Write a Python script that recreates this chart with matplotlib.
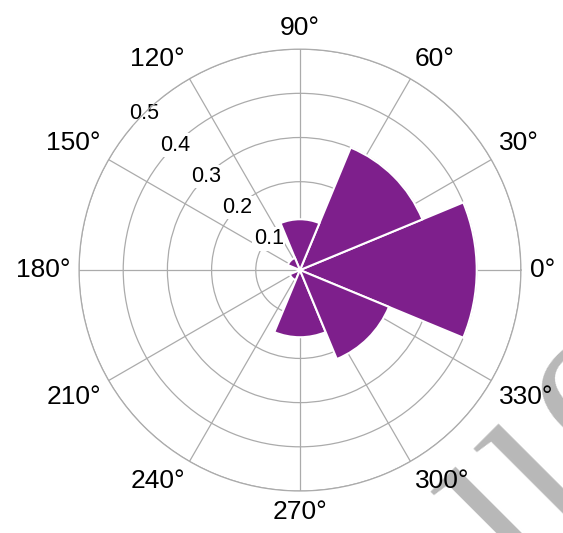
import matplotlib
matplotlib.use("Agg")
import numpy as np
import matplotlib.pyplot as plt

# Polar histogram: 8 bins of 45 degrees
bin_centers_deg = [0, 45, 90, 135, 180, 225, 270, 315]
bin_values = [0.40, 0.30, 0.115, 0.03, 0.0, 0.025, 0.152, 0.218]
bin_width_deg = 45

theta_ticks_deg = list(range(0, 360, 30))
theta_tick_labels = [f"{d}°" for d in theta_ticks_deg]
r_ticks = [0.1, 0.2, 0.3, 0.4, 0.5]
r_tick_labels = ["0.1", "0.2", "0.3", "0.4", "0.5"]
r_max = 0.5

bar_color = "#7E1F8C"
grid_color = "#ABABAB"

plt.rcParams["font.family"] = ["Liberation Sans", "DejaVu Sans"]

fig = plt.figure(figsize=(5.63, 5.33), dpi=100)
fig.patch.set_facecolor("white")

# faint watermark behind the plot
wm_style = dict(rotation=45, rotation_mode="anchor", fontsize=160,
                color="#B8B8B8", family="Liberation Serif", zorder=-1)
fig.text(0.952, -0.128, "ll", ha="left", va="baseline", **wm_style)
fig.text(1.05, 0.278, "o", ha="center", va="center", **wm_style)

ax = fig.add_axes([0.1403, 0.0788, 0.785, 0.829], projection="polar")
ax.patch.set_visible(False)

ax.bar(np.deg2rad(bin_centers_deg), bin_values, width=np.deg2rad(bin_width_deg),
       color=bar_color, edgecolor="white", linewidth=1.5, zorder=3)

ax.set_ylim(0, r_max)
ax.set_xticks(np.deg2rad(theta_ticks_deg))
ax.set_xticklabels([])
ax.set_yticks(r_ticks)
ax.set_yticklabels([])
ax.grid(True, color=grid_color, linewidth=0.9)
ax.spines["polar"].set_color(grid_color)
ax.spines["polar"].set_linewidth(0.9)
ax.tick_params(length=0)

# angle labels just outside the outer ring
for deg, lab in zip(theta_ticks_deg, theta_tick_labels):
    c, s = np.cos(np.deg2rad(deg)), np.sin(np.deg2rad(deg))
    ha = "left" if c > 0.1 else ("right" if c < -0.1 else "center")
    va = "bottom" if s > 0.1 else ("top" if s < -0.1 else "center")
    ax.text(np.deg2rad(deg), r_max * 1.04, lab, ha=ha, va=va,
            fontsize=19, color="black", clip_on=False)

# radius labels along 135 degrees, sitting on the rings (under the bars)
for r, lab in zip(r_ticks, r_tick_labels):
    ax.text(np.deg2rad(135), r, lab, ha="center", va="center", fontsize=15.5,
            color="black", zorder=2.5, clip_on=False,
            bbox=dict(facecolor="white", edgecolor="none", pad=1.0))

fig.savefig("out.png", dpi=100, facecolor="white")
